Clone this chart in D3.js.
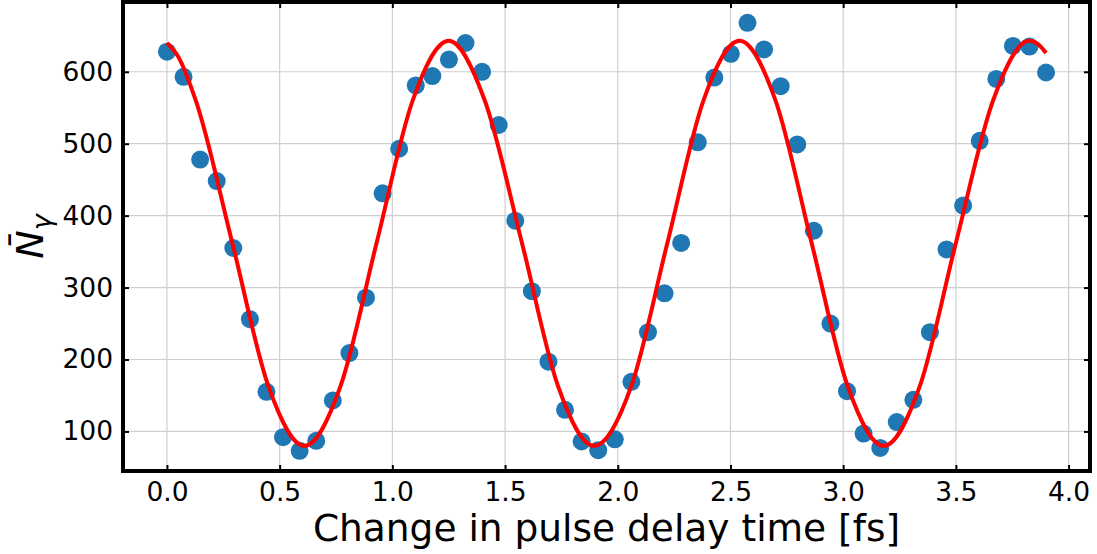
<!DOCTYPE html>
<html>
<head>
<meta charset="utf-8">
<script src="https://cdn.jsdelivr.net/npm/d3@7"></script>
<style>
  body { margin: 0; background: #fff; }
  svg { display: block; font-family: "DejaVu Sans", sans-serif; }
</style>
</head>
<body>
<svg id="chart" width="1097" height="554"></svg>
<script>
// measured photon yield, one point every ~0.0736 fs
var delayStep = 3.9 / 53;
var photonCounts = [
  628, 593, 478, 448, 355, 256, 155, 92, 73, 87,
  143, 209, 286, 431, 493, 581, 594, 617, 640, 600,
  526, 393, 295, 197, 130, 86, 74, 89, 169, 238,
  292, 362, 502, 592, 625, 668, 631, 580, 499, 379,
  250, 156, 97, 77, 113, 144, 238, 353, 414, 504,
  590, 636, 635, 599
];

var fitX = [0.00, 0.05, 0.13, 0.29, 0.45, 0.61, 0.77, 0.93, 1.09, 1.25, 1.41,
            1.575, 1.735, 1.895, 2.06, 2.22, 2.38, 2.54, 2.70, 2.86, 3.02,
            3.18, 3.34, 3.50, 3.665, 3.825, 3.87, 3.90];
var fitY = [640, 621, 558, 362, 163, 80, 163, 362, 560, 643, 560,
            362, 163, 80, 163, 362, 560, 643, 560, 362, 163,
            80, 163, 362, 560, 643, 637, 626];

var xTicks = [0, 0.5, 1, 1.5, 2, 2.5, 3, 3.5, 4];
var yTicks = [100, 200, 300, 400, 500, 600];

var plotLeft = 123, plotRight = 1090, plotTop = 2, plotBottom = 471;

var svg = d3.select("#chart");

var x = d3.scaleLinear().domain([-0.195, 4.095]).range([plotLeft, plotRight]);
var y = d3.scaleLinear().domain([45, 697]).range([plotBottom, plotTop]);

var points = photonCounts.map(function(v, i) { return { t: i * delayStep, n: v }; });
var fit = fitX.map(function(t, i) { return { t: t, n: fitY[i] }; });

// grid
var grid = svg.append("g").attr("stroke", "#cfcfcf").attr("stroke-width", 1.2);
grid.selectAll(".gx").data(xTicks).enter().append("line")
    .attr("x1", function(d) { return x(d); })
    .attr("x2", function(d) { return x(d); })
    .attr("y1", plotTop).attr("y2", plotBottom);
grid.selectAll(".gy").data(yTicks).enter().append("line")
    .attr("y1", function(d) { return y(d); })
    .attr("y2", function(d) { return y(d); })
    .attr("x1", plotLeft).attr("x2", plotRight);

// scatter
svg.append("g").selectAll("circle")
    .data(points)
    .enter().append("circle")
    .attr("cx", function(d) { return x(d.t); })
    .attr("cy", function(d) { return y(d.n); })
    .attr("r", 9)
    .attr("fill", "#1f77b4");

// fit line
var line = d3.line()
    .x(function(d) { return x(d.t); })
    .y(function(d) { return y(d.n); })
    .curve(d3.curveMonotoneX);

svg.append("path")
    .datum(fit)
    .attr("d", line)
    .attr("fill", "none")
    .attr("stroke", "#ff0000")
    .attr("stroke-width", 4);

// axes, ticks pointing inwards on every side
function styleAxis(g) {
    g.attr("font-size", null).attr("font-family", null);
    g.select(".domain").remove();
    g.selectAll(".tick line").attr("stroke", "#000").attr("stroke-width", 2);
    g.selectAll(".tick text").attr("fill", "#000").style("font-size", "26.5px");
}

svg.append("g")
    .attr("transform", "translate(0," + plotBottom + ")")
    .call(d3.axisBottom(x).tickValues(xTicks).tickFormat(d3.format(".1f")).tickSize(-6).tickPadding(11))
    .call(styleAxis);

svg.append("g")
    .attr("transform", "translate(0," + plotTop + ")")
    .call(d3.axisTop(x).tickValues(xTicks).tickFormat("").tickSize(-6))
    .call(styleAxis);

svg.append("g")
    .attr("transform", "translate(" + plotLeft + ",0)")
    .call(d3.axisLeft(y).tickValues(yTicks).tickSize(-6).tickPadding(10))
    .call(styleAxis);

svg.append("g")
    .attr("transform", "translate(" + plotRight + ",0)")
    .call(d3.axisRight(y).tickValues(yTicks).tickFormat("").tickSize(-6))
    .call(styleAxis);

// frame
svg.append("rect")
    .attr("x", plotLeft).attr("y", plotTop)
    .attr("width", plotRight - plotLeft).attr("height", plotBottom - plotTop)
    .attr("fill", "none")
    .attr("stroke", "#000")
    .attr("stroke-width", 4);

// labels
svg.append("text")
    .attr("x", (plotLeft + plotRight) / 2)
    .attr("y", 541)
    .attr("text-anchor", "middle")
    .style("font-size", "37.5px")
    .text("Change in pulse delay time [fs]");

var ylab = svg.append("text")
    .attr("transform", "translate(43," + ((plotTop + plotBottom) / 2) + ") rotate(-90)")
    .attr("text-anchor", "middle")
    .style("font-size", "38px");
ylab.append("tspan").style("font-style", "italic").text("N\u0304");
ylab.append("tspan")
    .attr("dy", 8)
    .style("font-style", "italic")
    .style("font-size", "27px")
    .text("\u03b3");
</script>
</body>
</html>
